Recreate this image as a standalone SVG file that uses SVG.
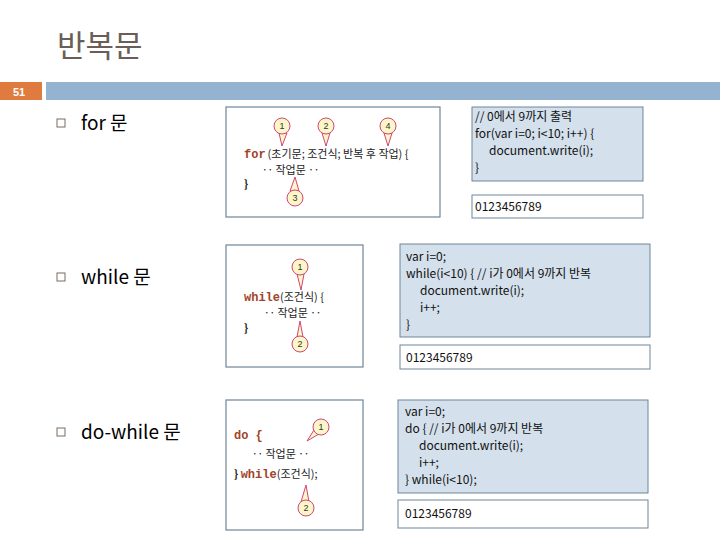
<svg xmlns="http://www.w3.org/2000/svg" width="720" height="540" viewBox="0 0 720 540">
<defs><style>
.t{font-family:"Noto Sans CJK KR","Noto Sans",sans-serif;fill:#000}
.c{font-family:"Noto Sans CJK KR","Noto Sans",sans-serif;font-size:12px;fill:#111}
.img{fill:#fff;stroke:#6f8599;stroke-width:1.2}
.code{fill:#d4e0ec;stroke:#6f8599;stroke-width:1}
.out{fill:#fff;stroke:#6f8599;stroke-width:1}
.b{fill:#fdf6c8;stroke:#d0457a;stroke-width:1}
.bn{font-family:"Liberation Sans",sans-serif;font-size:9px;fill:#333;text-anchor:middle}
.kw{font-family:"Liberation Mono","Noto Sans CJK KR",monospace;font-weight:bold;font-size:12px;fill:#a0442a}
.tx{font-family:"Noto Sans CJK KR",sans-serif;font-size:11px;fill:#222}
.sq{fill:none;stroke:#7a6a60;stroke-width:1}
</style></defs>
<text x="57" y="57" font-family="Noto Sans CJK KR,sans-serif" font-size="31" fill="#6b5e57">반복문</text>
<rect x="0" y="82" width="42" height="18" fill="#e07b3f"/>
<text x="19" y="96" font-family="Liberation Sans,sans-serif" font-size="11" font-weight="bold" fill="#fff" text-anchor="middle">51</text>
<rect x="46" y="82" width="674" height="18" fill="#94b3d1"/>

<g id="for">
<rect class="sq" x="57" y="119" width="8" height="8"/>
<text class="t" x="81" y="130" font-size="19">for 문</text>
<rect class="img" x="226" y="107" width="214" height="110"/>
<g>
<path class="b" d="M279,133 L282,146 L287,133 Z"/><circle class="b" cx="282" cy="126" r="8"/><text class="bn" x="282" y="129">1</text>
<path class="b" d="M322,133 L326,146 L330,133 Z"/><circle class="b" cx="326" cy="126" r="8"/><text class="bn" x="326" y="129">2</text>
<path class="b" d="M384,133 L388,146 L392,133 Z"/><circle class="b" cx="388" cy="126" r="8"/><text class="bn" x="388" y="129">4</text>
<path class="b" d="M290,191 L295,177 L299,191 Z"/><circle class="b" cx="295" cy="198" r="8"/><text class="bn" x="295" y="201">3</text>
</g>
<text x="244" y="158"><tspan class="kw">for</tspan><tspan class="tx" dx="2">(초기문;  조건식;  반복 후 작업)  {</tspan></text>
<text class="tx" x="262" y="174">‥ 작업문 ‥</text>
<text class="tx" x="244" y="188" font-weight="bold">}</text>
<rect class="code" x="472" y="107" width="171" height="74"/>
<text class="c"><tspan x="475" y="121">// 0에서 9까지 출력</tspan><tspan x="475" y="138">for(var i=0; i&lt;10; i++) {</tspan><tspan x="489" y="155">document.write(i);</tspan><tspan x="475" y="172">}</tspan></text>
<rect class="out" x="472" y="195" width="171" height="23"/>
<text class="c" x="475" y="211">0123456789</text>
</g>

<g id="while">
<rect class="sq" x="57" y="273" width="8" height="8"/>
<text class="t" x="81" y="284" font-size="19">while 문</text>
<rect class="img" x="226" y="245" width="137" height="122"/>
<path class="b" d="M297,274 L301,290 L304,274 Z"/><circle class="b" cx="300" cy="267" r="8"/><text class="bn" x="300" y="270">1</text>
<path class="b" d="M297,337 L300,321 L303,337 Z"/><circle class="b" cx="300" cy="344" r="8"/><text class="bn" x="300" y="347">2</text>
<text x="244" y="301"><tspan class="kw">while</tspan><tspan class="tx">(조건식)  {</tspan></text>
<text class="tx" x="264" y="317">‥ 작업문 ‥</text>
<text class="tx" x="244" y="332" font-weight="bold">}</text>
<rect class="code" x="400" y="244" width="250" height="93"/>
<text class="c"><tspan x="406" y="261">var i=0;</tspan><tspan x="406" y="278">while(i&lt;10) { // i가 0에서 9까지 반복</tspan><tspan x="420" y="295">document.write(i);</tspan><tspan x="420" y="312">i++;</tspan><tspan x="406" y="329">}</tspan></text>
<rect class="out" x="400" y="345" width="250" height="24"/>
<text class="c" x="406" y="362">0123456789</text>
</g>

<g id="dowhile">
<rect class="sq" x="57" y="428" width="8" height="8"/>
<text class="t" x="81" y="439" font-size="19">do-while 문</text>
<rect class="img" x="226" y="400" width="137" height="130"/>
<path class="b" d="M314,430 L307,441 L319,434 Z"/><circle class="b" cx="321" cy="427" r="8"/><text class="bn" x="321" y="430">1</text>
<path class="b" d="M301,502 L306,485 L309,502 Z"/><circle class="b" cx="306" cy="508" r="8"/><text class="bn" x="306" y="511">2</text>
<text class="kw" x="234" y="439">do  {</text>
<text class="tx" x="252" y="458">‥ 작업문 ‥</text>
<text x="234" y="478"><tspan class="tx" font-weight="bold">} </tspan><tspan class="kw">while</tspan><tspan class="tx">(조건식);</tspan></text>
<rect class="code" x="398" y="400" width="250" height="93"/>
<text class="c"><tspan x="405" y="416">var i=0;</tspan><tspan x="405" y="433">do { // i가 0에서 9까지 반복</tspan><tspan x="419" y="450">document.write(i);</tspan><tspan x="419" y="467">i++;</tspan><tspan x="405" y="484">} while(i&lt;10);</tspan></text>
<rect class="out" x="398" y="500" width="250" height="28"/>
<text class="c" x="405" y="518">0123456789</text>
</g>
<g id="connectors"/>
</svg>
